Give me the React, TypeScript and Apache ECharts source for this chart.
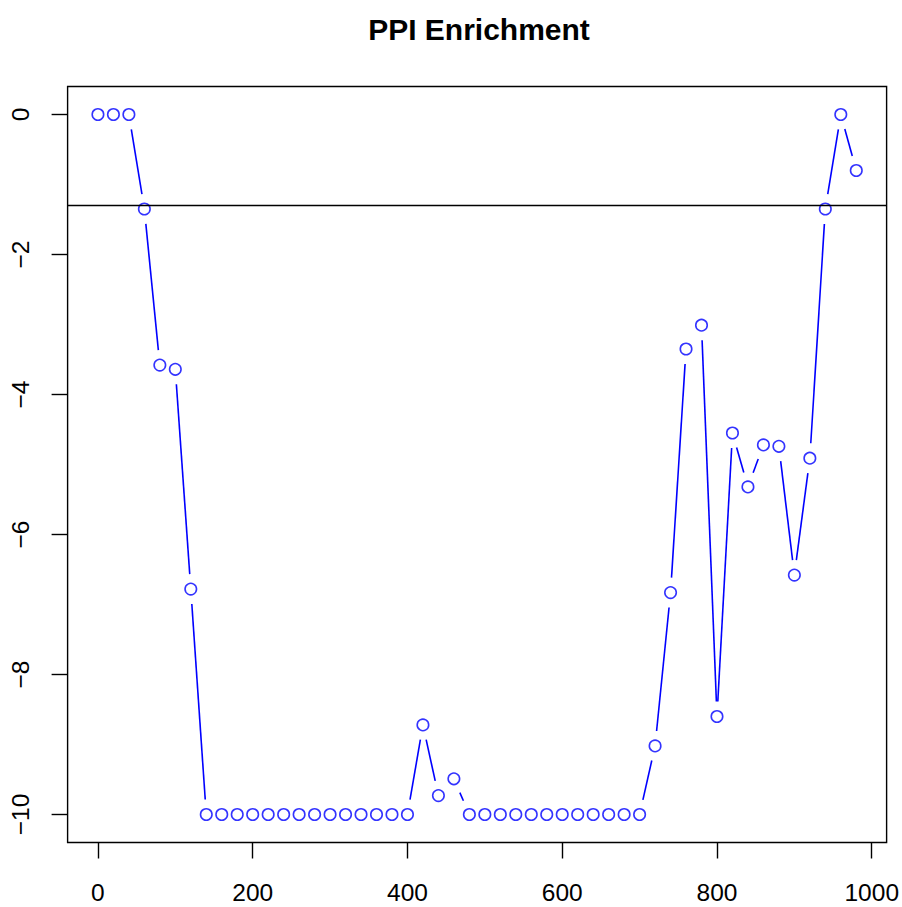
import React, { useEffect, useRef } from "react";
import * as echarts from "echarts";

const TITLE = "PPI Enrichment";
const xValues = [
  0, 20, 40, 60, 80, 100, 120, 140, 160, 180,
  200, 220, 240, 260, 280, 300, 320, 340, 360, 380,
  400, 420, 440, 460, 480, 500, 520, 540, 560, 580,
  600, 620, 640, 660, 680, 700, 720, 740, 760, 780,
  800, 820, 840, 860, 880, 900, 920, 940, 960, 980,
];
const yValues = [
  0, 0, 0, -1.35, -3.58, -3.64, -6.78, -10, -10, -10,
  -10, -10, -10, -10, -10, -10, -10, -10, -10, -10,
  -10, -8.72, -9.73, -9.49, -10, -10, -10, -10, -10, -10,
  -10, -10, -10, -10, -10, -10, -9.02, -6.83, -3.35, -3.01,
  -8.6, -4.55, -5.32, -4.72, -4.74, -6.58, -4.91, -1.35, 0, -0.8,
];
const xTicks = [0, 200, 400, 600, 800, 1000];
const yTicks = [-10, -8, -6, -4, -2, 0];
const thresholdY = -1.30103;

const FONT = "'Liberation Sans', Arial, Helvetica, sans-serif";

export default function App() {
  const ref = useRef<HTMLDivElement>(null);
  useEffect(() => {
    document.body.style.margin = "0";
    const chart = echarts.init(ref.current!, null, { renderer: "svg" });
    const points = xValues.map((x, i) => [x, yValues[i]]);
    const segments = xValues.slice(0, -1).map((x, i) => [x, yValues[i], xValues[i + 1], yValues[i + 1]]);
    const GAP = 15;
    chart.setOption({
      animation: false,
      backgroundColor: "#ffffff",
      title: {
        text: TITLE,
        left: 474,
        top: 9,
        textAlign: "center",
        textStyle: { fontFamily: FONT, fontSize: 30, fontWeight: "bold", color: "#000", lineHeight: 30 },
      },
      grid: {
        left: 67.6,
        right: 14,
        top: 86.5,
        bottom: 64.5,
        show: true,
        borderColor: "#000",
        borderWidth: 1.4,
        backgroundColor: "transparent",
      },
      xAxis: {
        type: "value",
        min: -39.2,
        max: 1019.2,
        axisLine: { show: false, onZero: false },
        splitLine: { show: false },
        axisTick: {
          show: true,
          customValues: xTicks,
          length: 16,
          lineStyle: { color: "#000", width: 1.4 },
        },
        axisLabel: {
          customValues: xTicks,
          margin: 50,
          verticalAlign: "middle",
          fontFamily: FONT,
          fontSize: 24.5,
          color: "#000",
          formatter: (v: number) => String(v),
        },
      },
      yAxis: {
        type: "value",
        min: -10.4,
        max: 0.4,
        axisLine: { show: false, onZero: false },
        splitLine: { show: false },
        axisTick: {
          show: true,
          customValues: yTicks,
          length: 16,
          lineStyle: { color: "#000", width: 1.4 },
        },
        axisLabel: {
          customValues: yTicks,
          rotate: 90,
          margin: 47,
          align: "center",
          verticalAlign: "middle",
          fontFamily: FONT,
          fontSize: 24.5,
          color: "#000",
          formatter: (v: number) => (v < 0 ? "\u2212" + Math.abs(v) : String(v)),
        },
      },
      series: [
        {
          type: "custom",
          data: segments,
          encode: { x: [0, 2], y: [1, 3] },
          renderItem: (params: any, api: any) => {
            const p1 = api.coord([api.value(0), api.value(1)]);
            const p2 = api.coord([api.value(2), api.value(3)]);
            const dx = p2[0] - p1[0];
            const dy = p2[1] - p1[1];
            const len = Math.hypot(dx, dy);
            if (len <= 2 * GAP) return { type: "group", children: [] };
            const ux = dx / len;
            const uy = dy / len;
            return {
              type: "line",
              shape: {
                x1: p1[0] + ux * GAP,
                y1: p1[1] + uy * GAP,
                x2: p2[0] - ux * GAP,
                y2: p2[1] - uy * GAP,
              },
              style: { stroke: "#0000ff", lineWidth: 1.6 },
            };
          },
        },
        {
          type: "scatter",
          data: points,
          symbol: "circle",
          symbolSize: 11.5,
          itemStyle: { color: "rgba(0,0,0,0)", borderColor: "#0000ff", borderWidth: 1.6 },
          markLine: {
            silent: true,
            symbol: "none",
            label: { show: false },
            lineStyle: { color: "#000", width: 1.4, type: "solid" },
            data: [{ yAxis: thresholdY }],
          },
        },
      ],
    });
    return () => chart.dispose();
  }, []);
  return <div ref={ref} style={{ width: 902, height: 907, position: "absolute", left: 0, top: 0 }} />;
}
